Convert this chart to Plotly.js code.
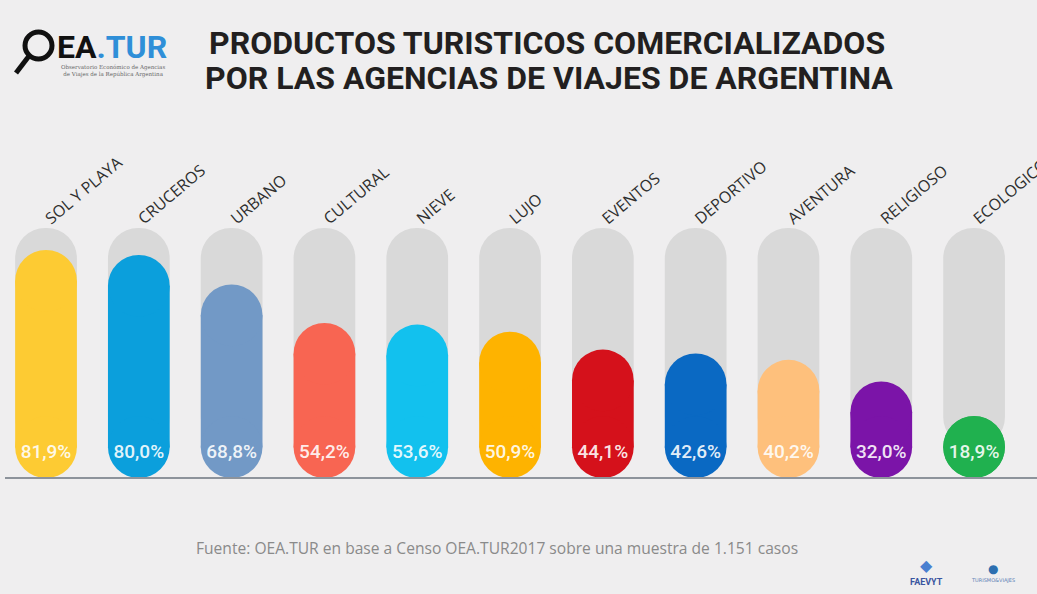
<!DOCTYPE html>
<html>
<head>
<meta charset="utf-8">
<script src="https://cdn.plot.ly/plotly-3.0.1.min.js"></script>
<style>
  html, body { margin: 0; padding: 0; background: #efeeef; }
  #chart { width: 1037px; height: 594px; }
</style>
</head>
<body>
<div id="chart"></div>
<script>
// ---- data ----
const categories = ["SOL Y PLAYA", "CRUCEROS", "URBANO", "CULTURAL", "NIEVE", "LUJO",
                    "EVENTOS", "DEPORTIVO", "AVENTURA", "RELIGIOSO", "ECOLOGICO"];
const values = [81.9, 80.0, 68.8, 54.2, 53.6, 50.9, 44.1, 42.6, 40.2, 32.0, 18.9];
const barColors = ["#fdcb33", "#0b9fdc", "#7299c6", "#f86552", "#12c1ee", "#feb300",
                   "#d5111b", "#0a69c3", "#fec07c", "#7b14a8", "#20b14f"];

// ---- styling / layout constants ----
const W = 1037, H = 594;
const M = { l: 5, r: 0, t: 100, b: 0 };
const PW = W - M.l - M.r, PH = H - M.t - M.b;
const px2x = px => (px - M.l) / PW;          // figure pixel -> paper x
const px2y = py => (H - M.b - py) / PH;      // figure pixel -> paper y

const yRange = [-48.65, 138.8];
const xRange = [-0.442, 10.678];
const baseline = -4.63;                      // axis units where pills sit
const barWidth = 0.665;                      // category units
const capSize = barWidth * PW / (xRange[1] - xRange[0]);        // px diameter of caps
const capR = (capSize / 2) * (yRange[1] - yRange[0]) / PH;      // cap radius in y units
const capCenter = baseline + capR;           // centre of bottom cap
const trackTop = 90.2;                       // top of the grey track
const fmt = v => v.toFixed(1).replace('.', ',') + '%';

const traces = [
  { // grey tracks
    type: 'bar', x: categories, y: categories.map(() => trackTop - capCenter),
    base: capCenter, width: barWidth,
    marker: { color: '#d9d9d9', cornerradius: '50%', line: { width: 0 } },
    hoverinfo: 'skip', showlegend: false
  },
  { // value bars (straight part)
    type: 'bar', x: categories, y: values.map(v => Math.max(v - capR - capCenter, 0)),
    base: capCenter, width: barWidth,
    marker: { color: barColors, line: { width: 0 } },
    hoverinfo: 'skip', showlegend: false
  },
  { // rounded top caps
    type: 'scatter', mode: 'markers', x: categories, y: values.map(v => v - capR),
    marker: { color: barColors, size: capSize, symbol: 'circle', line: { width: 0 } },
    hoverinfo: 'skip', showlegend: false, cliponaxis: false
  },
  { // rounded bottom caps
    type: 'scatter', mode: 'markers', x: categories, y: categories.map(() => capCenter),
    marker: { color: barColors, size: capSize, symbol: 'circle', line: { width: 0 } },
    hoverinfo: 'skip', showlegend: false, cliponaxis: false
  },
  { // value labels
    type: 'scatter', mode: 'text', x: categories, y: categories.map(() => 4.7),
    text: values.map(fmt), textposition: 'middle center',
    textfont: { family: 'Roboto, sans-serif', size: 19, color: 'rgba(255,255,255,0.9)', weight: 500 },
    hoverinfo: 'skip', showlegend: false, cliponaxis: false
  }
];

const layout = {
  width: W, height: H,
  margin: M,
  paper_bgcolor: '#efeeef', plot_bgcolor: 'rgba(0,0,0,0)',
  barmode: 'overlay',
  hovermode: false,
  showlegend: false,
  xaxis: {
    type: 'category', range: xRange,
    side: 'top', anchor: 'free', position: px2y(230),
    tickangle: -40, ticks: '', showline: false, showgrid: false, zeroline: false,
    tickfont: { family: 'Open Sans, sans-serif', size: 16, color: '#2e2e2e' }
  },
  yaxis: {
    range: yRange, visible: false, fixedrange: true
  },
  shapes: [
    { type: 'line', xref: 'paper', x0: 0, x1: 1, yref: 'y', y0: baseline, y1: baseline,
      line: { color: '#8d939b', width: 2 } },
    // magnifier of the logo
    { type: 'circle', xref: 'paper', yref: 'paper', layer: 'above',
      x0: px2x(25), x1: px2x(52), y0: px2y(59), y1: px2y(32),
      line: { color: '#111111', width: 5 } },
    { type: 'line', xref: 'paper', yref: 'paper', layer: 'above',
      x0: px2x(29), x1: px2x(16), y0: px2y(56), y1: px2y(73),
      line: { color: '#111111', width: 5 } }
  ],
  annotations: [
    { xref: 'paper', yref: 'paper', x: px2x(547), y: px2y(43), xanchor: 'center', yanchor: 'middle',
      text: '<b>PRODUCTOS TURISTICOS COMERCIALIZADOS</b>', showarrow: false,
      font: { family: 'Roboto, sans-serif', size: 32, color: '#221f20' } },
    { xref: 'paper', yref: 'paper', x: px2x(549), y: px2y(78), xanchor: 'center', yanchor: 'middle',
      text: '<b>POR LAS AGENCIAS DE VIAJES DE ARGENTINA</b>', showarrow: false,
      font: { family: 'Roboto, sans-serif', size: 32, color: '#221f20' } },
    { xref: 'paper', yref: 'paper', x: px2x(55), y: px2y(47), xanchor: 'left', yanchor: 'middle',
      text: '<b>EA<span style="color:#2f8fd8">.TUR</span></b>', showarrow: false,
      font: { family: 'Roboto, sans-serif', size: 32, color: '#111111' } },
    { xref: 'paper', yref: 'paper', x: px2x(113), y: px2y(71), xanchor: 'center', yanchor: 'middle',
      text: 'Observatorio Económico de Agencias<br>de Viajes de la República Argentina', showarrow: false,
      align: 'center',
      font: { family: 'DejaVu Serif, serif', size: 5.5, color: '#666666' } },
    { xref: 'paper', yref: 'paper', x: px2x(497), y: px2y(548), xanchor: 'center', yanchor: 'middle',
      text: 'Fuente: OEA.TUR en base a Censo OEA.TUR2017 sobre una muestra de 1.151 casos', showarrow: false,
      font: { family: 'Open Sans, sans-serif', size: 15.6, color: '#8a8a8a' } },
    { xref: 'paper', yref: 'paper', x: px2x(926), y: px2y(582), xanchor: 'center', yanchor: 'middle',
      text: '<b>FAEVYT</b>', showarrow: false,
      font: { family: 'Roboto, sans-serif', size: 9, color: '#3a55a0' } },
    { xref: 'paper', yref: 'paper', x: px2x(926), y: px2y(565), xanchor: 'center', yanchor: 'middle',
      text: '◆', showarrow: false,
      font: { family: 'DejaVu Sans, sans-serif', size: 16, color: '#4a7fd0' } },
    { xref: 'paper', yref: 'paper', x: px2x(993), y: px2y(569), xanchor: 'center', yanchor: 'middle',
      text: '●', showarrow: false,
      font: { family: 'DejaVu Sans, sans-serif', size: 12, color: '#2c6fb0' } },
    { xref: 'paper', yref: 'paper', x: px2x(993), y: px2y(580), xanchor: 'center', yanchor: 'middle',
      text: 'TURISMO&amp;VIAJES', showarrow: false,
      font: { family: 'DejaVu Sans, sans-serif', size: 5, color: '#5b7fb5' } }
  ]
};

Plotly.newPlot('chart', traces, layout, { displayModeBar: false, staticPlot: true });
</script>
</body>
</html>
